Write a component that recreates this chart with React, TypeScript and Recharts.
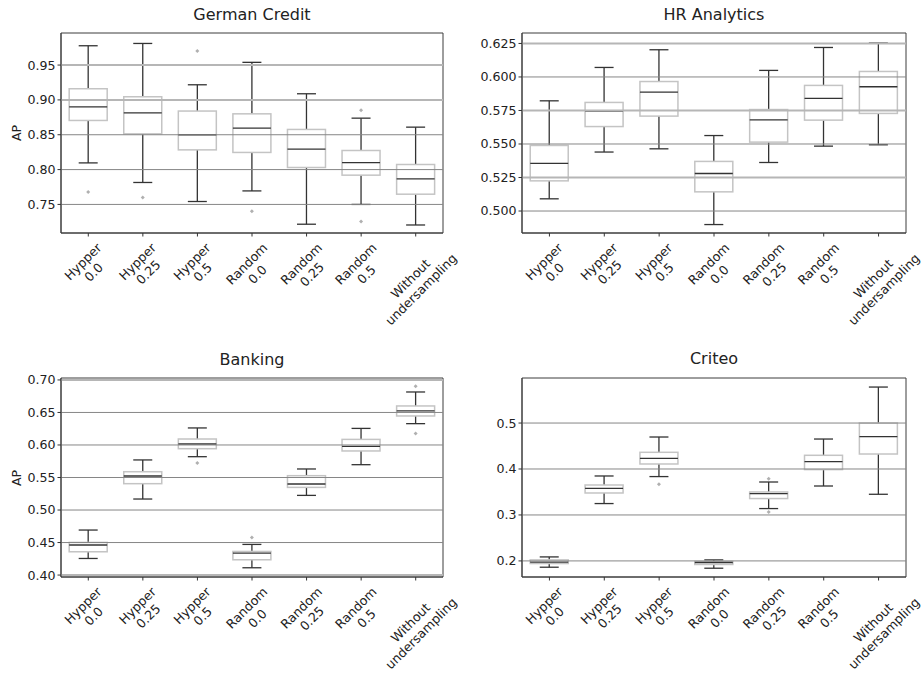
import React from 'react';
import { ComposedChart, Bar, XAxis, YAxis, ReferenceLine, ReferenceArea } from 'recharts';

// ---------- categories ----------
const categories = [
  'Hypper\n0.0',
  'Hypper\n0.25',
  'Hypper\n0.5',
  'Random\n0.0',
  'Random\n0.25',
  'Random\n0.5',
  'Without\nundersampling',
];

// ---------- German Credit ----------
const germanLow = [0.8096, 0.7815, 0.7542, 0.7694, 0.7216, 0.75, 0.7205];
const germanQ1 = [0.8705, 0.8513, 0.8283, 0.8246, 0.803, 0.792, 0.7647];
const germanMed = [0.89, 0.8815, 0.85, 0.8595, 0.8293, 0.81, 0.7867];
const germanQ3 = [0.916, 0.9045, 0.884, 0.88, 0.8576, 0.8274, 0.8073];
const germanHigh = [0.9777, 0.981, 0.9217, 0.9539, 0.9088, 0.8738, 0.8609];
const germanOut = [[0.768], [0.76], [0.97], [0.7402], [], [0.8853, 0.7254], []];
const germanTicks = [0.75, 0.8, 0.85, 0.9, 0.95];
const germanLight = [0.9, 0.95];

// ---------- HR Analytics ----------
const hrLow = [0.5091, 0.544, 0.5464, 0.4899, 0.5362, 0.5484, 0.5494];
const hrQ1 = [0.5225, 0.563, 0.5708, 0.5143, 0.5514, 0.5678, 0.5728];
const hrMed = [0.5355, 0.5746, 0.5887, 0.528, 0.568, 0.584, 0.5927];
const hrQ3 = [0.5489, 0.581, 0.5966, 0.537, 0.5757, 0.5937, 0.6041];
const hrHigh = [0.5822, 0.6071, 0.6203, 0.5563, 0.6049, 0.622, 0.6253];
const hrOut = [[], [], [], [], [], [], []];
const hrTicks = [0.5, 0.525, 0.55, 0.575, 0.6, 0.625];
const hrLight = [0.525, 0.575, 0.625];

// ---------- Banking ----------
const bankLow = [0.4255, 0.5169, 0.582, 0.4112, 0.5225, 0.5697, 0.6328];
const bankQ1 = [0.4358, 0.5405, 0.5943, 0.4235, 0.5348, 0.5908, 0.6446];
const bankMed = [0.4462, 0.5523, 0.6015, 0.4338, 0.54, 0.5978, 0.6523];
const bankQ3 = [0.4502, 0.5589, 0.6092, 0.4363, 0.5528, 0.6086, 0.66];
const bankHigh = [0.4692, 0.577, 0.6262, 0.4471, 0.5631, 0.6255, 0.6815];
const bankOut = [[], [], [0.5723], [0.4578], [], [], [0.6902, 0.6178]];
const bankTicks = [0.4, 0.45, 0.5, 0.55, 0.6, 0.65, 0.7];
const bankLight = [0.4, 0.7];

// ---------- Criteo ----------
const critLow = [0.1863, 0.3248, 0.3835, 0.1841, 0.3139, 0.363, 0.345];
const critQ1 = [0.1943, 0.3478, 0.4109, 0.1922, 0.3357, 0.3987, 0.4326];
const critMed = [0.1972, 0.358, 0.4233, 0.1965, 0.3465, 0.416, 0.4704];
const critQ3 = [0.2022, 0.3652, 0.4363, 0.1987, 0.35, 0.4298, 0.5];
const critHigh = [0.2087, 0.3848, 0.4696, 0.2022, 0.3717, 0.4652, 0.5783];
const critOut = [[], [], [0.3667], [], [0.379, 0.3065], [], []];
const critTicks = [0.2, 0.3, 0.4, 0.5];
const critLight: number[] = [];

// ---------- helpers ----------
const FONT = 'DejaVu Sans';
const TICK_FS = 12.6;

function buildRows(low: number[], q1: number[], med: number[], q3: number[], high: number[], out: number[][]) {
  return categories.map((cat, i) => {
    const lo = Math.min(low[i], ...out[i]);
    const hi = Math.max(high[i], ...out[i]);
    return { cat, range: [lo, hi], whLo: low[i], q1: q1[i], med: med[i], q3: q3[i], whHi: high[i], outliers: out[i] };
  });
}

let measureCtx: CanvasRenderingContext2D | null = null;
function textWidth(s: string, fs: number) {
  if (!measureCtx && typeof document !== 'undefined') {
    measureCtx = document.createElement('canvas').getContext('2d');
  }
  if (!measureCtx) return s.length * fs * 0.6;
  measureCtx.font = `${fs}px "${FONT}"`;
  return measureCtx.measureText(s).width;
}

const CatTick = (props: any) => {
  const { x, y, payload } = props;
  const lines = String(payload.value).split('\n');
  const lh = TICK_FS * 1.2;
  const w = Math.max(...lines.map((l) => textWidth(l, TICK_FS)));
  const h = lines.length * lh;
  const half = (w + h) / (2 * Math.SQRT2);
  return (
    <g transform={`translate(${x},${y + half}) rotate(-45)`}>
      {lines.map((l, i) => (
        <text
          key={i}
          x={0}
          y={(i - (lines.length - 1) / 2) * lh}
          textAnchor="middle"
          dominantBaseline="central"
          fontSize={TICK_FS}
          fontFamily={FONT}
          fill="#222"
        >
          {l}
        </text>
      ))}
    </g>
  );
};

const BoxShape = (props: any) => {
  const { x, y, width, height } = props;
  const d = props.payload ?? props;
  const [lo, hi] = d.range;
  const top = Math.min(y, y + height);
  const bot = Math.max(y, y + height);
  const py = (v: number) => top + ((hi - v) / (hi - lo)) * (bot - top);
  const cx = x + width / 2;
  const cap = width / 4;
  const dark = '#333333';
  const r = 2;
  return (
    <g>
      <line x1={cx} x2={cx} y1={py(d.whHi)} y2={py(d.q3)} stroke={dark} strokeWidth={1.3} />
      <line x1={cx} x2={cx} y1={py(d.q1)} y2={py(d.whLo)} stroke={dark} strokeWidth={1.3} />
      <line x1={cx - cap} x2={cx + cap} y1={py(d.whHi)} y2={py(d.whHi)} stroke={dark} strokeWidth={1.3} />
      <line x1={cx - cap} x2={cx + cap} y1={py(d.whLo)} y2={py(d.whLo)} stroke={dark} strokeWidth={1.3} />
      <rect x={x} y={py(d.q3)} width={width} height={py(d.q1) - py(d.q3)} fill="#ffffff" stroke="#c4c4c4" strokeWidth={1.5} />
      <line x1={x} x2={x + width} y1={py(d.med)} y2={py(d.med)} stroke={dark} strokeWidth={1.3} />
      {d.outliers.map((o: number, i: number) => (
        <path
          key={i}
          d={`M${cx},${py(o) - r} L${cx + r},${py(o)} L${cx},${py(o) + r} L${cx - r},${py(o)} Z`}
          fill="#b0b0b0"
        />
      ))}
    </g>
  );
};

type PanelProps = {
  rows: any[];
  domain: [number, number];
  ticks: number[];
  light: number[];
  decimals: number;
  left: number;
  top: number;
  marginTop: number;
  marginRight: number;
  xAxisHeight: number;
};

const Panel = ({ rows, domain, ticks, light, decimals, left, top, marginTop, marginRight, xAxisHeight }: PanelProps) => (
  <div style={{ position: 'absolute', left, top }}>
    <ComposedChart
      width={461}
      height={337}
      data={rows}
      margin={{ top: marginTop, right: marginRight, bottom: 0, left: 0 }}
      barCategoryGap="15%"
      style={{ fontFamily: FONT }}
    >
      {ticks.map((t) => (
        <ReferenceLine
          key={t}
          y={t}
          stroke={light.includes(t) ? '#b6b6b6' : '#868686'}
          strokeWidth={light.includes(t) ? 2 : 1}
        />
      ))}
      <XAxis
        dataKey="cat"
        interval={0}
        height={xAxisHeight}
        tickSize={3.5}
        tickMargin={3.5}
        tickLine={{ stroke: '#333' }}
        axisLine={{ stroke: '#3c3c3c' }}
        tick={(p: any) => <CatTick {...p} />}
      />
      <YAxis
        type="number"
        domain={domain}
        ticks={ticks}
        allowDataOverflow
        width={61}
        tickSize={3.5}
        tickMargin={2}
        tickLine={{ stroke: '#333' }}
        axisLine={{ stroke: '#3c3c3c' }}
        tick={{ fill: '#222', fontSize: TICK_FS, fontFamily: FONT }}
        tickFormatter={(v: number) => v.toFixed(decimals)}
      />
      <Bar dataKey="range" shape={(p: any) => <BoxShape {...p} />} isAnimationActive={false} />
      <ReferenceArea y1={domain[0]} y2={domain[1]} fill="none" fillOpacity={0} stroke="#3c3c3c" strokeWidth={1} ifOverflow="visible" />
    </ComposedChart>
  </div>
);

const germanRows = buildRows(germanLow, germanQ1, germanMed, germanQ3, germanHigh, germanOut);
const hrRows = buildRows(hrLow, hrQ1, hrMed, hrQ3, hrHigh, hrOut);
const bankRows = buildRows(bankLow, bankQ1, bankMed, bankQ3, bankHigh, bankOut);
const critRows = buildRows(critLow, critQ1, critMed, critQ3, critHigh, critOut);

export default function App() {
  return (
    <div style={{ position: 'absolute', left: 0, top: 0, width: 922, height: 674, background: '#fff', overflow: 'hidden' }}>
      <Panel rows={germanRows} domain={[0.709, 0.996]} ticks={germanTicks} light={germanLight} decimals={2}
        left={0} top={0} marginTop={33} marginRight={18} xAxisHeight={104} />
      <Panel rows={hrRows} domain={[0.4836, 0.6328]} ticks={hrTicks} light={hrLight} decimals={3}
        left={461} top={0} marginTop={33} marginRight={16} xAxisHeight={104} />
      <Panel rows={bankRows} domain={[0.397, 0.703]} ticks={bankTicks} light={bankLight} decimals={2}
        left={0} top={337} marginTop={41} marginRight={18} xAxisHeight={97} />
      <Panel rows={critRows} domain={[0.165, 0.598]} ticks={critTicks} light={critLight} decimals={1}
        left={461} top={337} marginTop={41} marginRight={16} xAxisHeight={97} />
      <svg width={922} height={674} style={{ position: 'absolute', left: 0, top: 0, pointerEvents: 'none' }}>
        <g fontFamily={FONT} fill="#222" fontSize={16} textAnchor="middle">
          <text x={252} y={20}>German Credit</text>
          <text x={714} y={20}>HR Analytics</text>
          <text x={252} y={365}>Banking</text>
          <text x={714} y={364}>Criteo</text>
        </g>
        <g fontFamily={FONT} fill="#222" fontSize={TICK_FS} textAnchor="middle">
          <text transform="translate(20.5,133) rotate(-90)">AP</text>
          <text transform="translate(20.5,478) rotate(-90)">AP</text>
        </g>
      </svg>
    </div>
  );
}
